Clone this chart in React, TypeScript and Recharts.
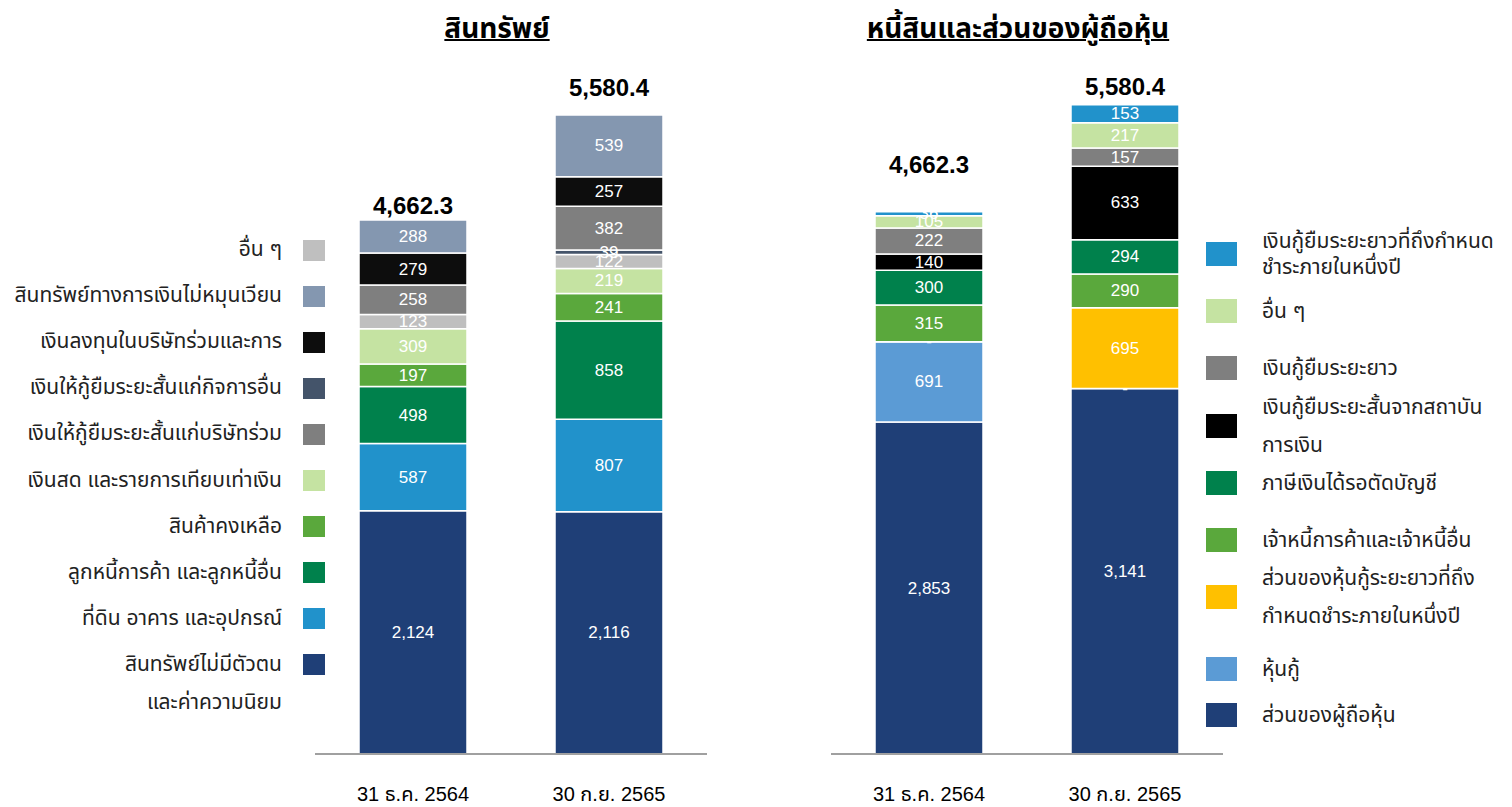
import React from 'react';
import { BarChart, Bar, XAxis, YAxis, LabelList, Legend } from 'recharts';

const FONT = "'Liberation Sans', Arial, 'Noto Sans Thai', Tahoma, sans-serif";

const periods = ['31 ธ.ค. 2564', '30 ก.ย. 2565'];

// สินทรัพย์ (ล้านบาท) - bottom to top of the stack
const intangibleAssets = [2124, 2116];
const ppe = [587, 807];
const tradeReceivables = [498, 858];
const inventories = [197, 241];
const cashEquivalents = [309, 219];
const otherAssets = [123, 122];
const loansToOthers = [null, 39];
const loansToAssociates = [258, 382];
const investments = [279, 257];
const nonCurrentFinAssets = [288, 539];
const assetTotals = [4662.3, 5580.4];

// หนี้สินและส่วนของผู้ถือหุ้น - bottom to top of the stack
const equity = [2853, 3141];
const debentures = [691, 0];
const currentDebentures = [0, 695];
const tradePayables = [315, 290];
const deferredTax = [300, 294];
const shortTermLoans = [140, 633];
const longTermLoans = [222, 157];
const otherLiabilities = [105, 217];
const currentLongTermLoans = [36, 153];
const liabTotals = [4662.3, 5580.4];

type Series = { key: string; label: string; color: string; values: (number | null)[] };

const assetSeries: Series[] = [
  { key: 'intangible', label: 'สินทรัพย์ไม่มีตัวตน\nและค่าความนิยม', color: '#1F3F77', values: intangibleAssets },
  { key: 'ppe', label: 'ที่ดิน อาคาร และอุปกรณ์', color: '#2192CB', values: ppe },
  { key: 'receivables', label: 'ลูกหนี้การค้า และลูกหนี้อื่น', color: '#00814C', values: tradeReceivables },
  { key: 'inventory', label: 'สินค้าคงเหลือ', color: '#5AA83C', values: inventories },
  { key: 'cash', label: 'เงินสด และรายการเทียบเท่าเงิน', color: '#C5E3A2', values: cashEquivalents },
  { key: 'other', label: 'อื่น ๆ', color: '#BFBFBF', values: otherAssets },
  { key: 'loanOther', label: 'เงินให้กู้ยืมระยะสั้นแก่กิจการอื่น', color: '#44546A', values: loansToOthers },
  { key: 'loanAssoc', label: 'เงินให้กู้ยืมระยะสั้นแก่บริษัทร่วม', color: '#7F7F7F', values: loansToAssociates },
  { key: 'invest', label: 'เงินลงทุนในบริษัทร่วมและการ', color: '#0D0D0D', values: investments },
  { key: 'finAsset', label: 'สินทรัพย์ทางการเงินไม่หมุนเวียน', color: '#8497B0', values: nonCurrentFinAssets },
];
const assetLegendOrder = ['other', 'finAsset', 'invest', 'loanOther', 'loanAssoc', 'cash', 'inventory', 'receivables', 'ppe', 'intangible'];

const liabSeries: Series[] = [
  { key: 'equity', label: 'ส่วนของผู้ถือหุ้น', color: '#1F3F77', values: equity },
  { key: 'deb', label: 'หุ้นกู้', color: '#5B9BD5', values: debentures },
  { key: 'curDeb', label: 'ส่วนของหุ้นกู้ระยะยาวที่ถึง\nกำหนดชำระภายในหนึ่งปี', color: '#FFC000', values: currentDebentures },
  { key: 'payables', label: 'เจ้าหนี้การค้าและเจ้าหนี้อื่น', color: '#5AA83C', values: tradePayables },
  { key: 'tax', label: 'ภาษีเงินได้รอตัดบัญชี', color: '#00814C', values: deferredTax },
  { key: 'stLoan', label: 'เงินกู้ยืมระยะสั้นจากสถาบัน\nการเงิน', color: '#000000', values: shortTermLoans },
  { key: 'ltLoan', label: 'เงินกู้ยืมระยะยาว', color: '#7F7F7F', values: longTermLoans },
  { key: 'otherLiab', label: 'อื่น ๆ', color: '#C5E3A2', values: otherLiabilities },
  { key: 'curLtLoan', label: 'เงินกู้ยืมระยะยาวที่ถึงกำหนด\nชำระภายในหนึ่งปี', color: '#2192CB', values: currentLongTermLoans },
];

const buildRows = (series: Series[]) =>
  periods.map((p, i) => {
    const row: Record<string, any> = { period: p };
    series.forEach((s) => (row[s.key] = s.values[i]));
    return row;
  });

const assetData = buildRows(assetSeries);
const liabData = buildRows(liabSeries);

// layout constants
const ASSET_LIFT = [6, 19];
const LIAB_LIFT = [39, 10];
const RIGHT_ROW_Y = [254, 311, 368, 426, 483, 540, 597, 669, 715];

// zero values still get a hairline so their "-" label is drawn
const zeroMin = (s: Series) => (_v: any, index: number) => (s.values[index] === 0 ? 1 : 0);

const segLabel = (props: any) => {
  const { x, y, width, height, value } = props;
  if (value === null || value === undefined) return null;
  const txt = value === 0 ? '-' : Number(value).toLocaleString('en-US');
  return (
    <text
      x={x + width / 2}
      y={y + height / 2}
      textAnchor="middle"
      dominantBaseline="central"
      fill="#fff"
      fontSize={17}
      fontFamily={FONT}
    >
      {txt}
    </text>
  );
};

const totalLabel = (totals: number[], lifts: number[]) => (props: any) => {
  const { x, y, width, index } = props;
  return (
    <text
      x={x + width / 2}
      y={y - lifts[index]}
      textAnchor="middle"
      fill="#000"
      fontSize={24}
      fontWeight="bold"
      fontFamily={FONT}
    >
      {totals[index].toLocaleString('en-US', { minimumFractionDigits: 1 })}
    </text>
  );
};

const AssetLegend = () => (
  <div style={{ position: 'relative', width: 315, height: 807, fontFamily: FONT, color: '#222' }}>
    {assetLegendOrder.map((k, i) => {
      const s = assetSeries.find((it) => it.key === k)!;
      const cy = 250 + i * 46.1;
      return (
        <React.Fragment key={k}>
          <div style={{ position: 'absolute', left: 303, top: cy - 10.5, width: 22, height: 21, background: s.color }} />
          <div
            style={{
              position: 'absolute',
              right: 33,
              top: cy - 20,
              lineHeight: '38px',
              fontSize: 21,
              textAlign: 'right',
              whiteSpace: 'pre',
            }}
          >
            {s.label}
          </div>
        </React.Fragment>
      );
    })}
  </div>
);

const LiabLegend = () => (
  <div style={{ position: 'relative', width: 289, height: 807, fontFamily: FONT, color: '#222' }}>
    {[...liabSeries].reverse().map((s, i) => {
      const cy = RIGHT_ROW_Y[i];
      return (
        <React.Fragment key={s.key}>
          <div style={{ position: 'absolute', left: 0, top: cy - 12, width: 31, height: 24, background: s.color }} />
          <div
            style={{
              position: 'absolute',
              left: 56,
              top: cy - 50,
              height: 100,
              display: 'flex',
              alignItems: 'center',
            }}
          >
            <div style={{ fontSize: 21, lineHeight: i === 0 ? '26px' : '38px', whiteSpace: 'pre' }}>{s.label}</div>
          </div>
        </React.Fragment>
      );
    })}
  </div>
);

const titleStyle: React.CSSProperties = {
  position: 'absolute',
  top: 8,
  transform: 'translateX(-50%)',
  fontFamily: FONT,
  fontWeight: 'bold',
  fontSize: 28,
  textDecoration: 'underline',
  textDecorationThickness: 2,
  whiteSpace: 'nowrap',
  color: '#000',
};

const axisTick = { fontSize: 20, fill: '#000', fontFamily: FONT };

export default function App() {
  return (
    <div style={{ position: 'absolute', left: 0, top: 0, width: 1512, height: 807, background: '#fff' }}>
      <div style={{ ...titleStyle, left: 497 }}>สินทรัพย์</div>
      <div style={{ ...titleStyle, left: 1018 }}>หนี้สินและส่วนของผู้ถือหุ้น</div>

      <div style={{ position: 'absolute', left: 0, top: 0 }}>
        <BarChart width={720} height={807} data={assetData} margin={{ top: 67, right: 13, bottom: 0, left: 0 }} barSize={108}>
          <XAxis
            dataKey="period"
            height={53}
            tickLine={false}
            tickSize={0}
            tickMargin={33}
            tick={axisTick}
            axisLine={{ stroke: '#A0A0A0', strokeWidth: 2 }}
          />
          <YAxis hide domain={[0, 6000]} />
          <Legend
            layout="vertical"
            align="left"
            verticalAlign="top"
            content={AssetLegend}
            wrapperStyle={{ left: 0, top: 0, width: 315 }}
          />
          {assetSeries.map((s, i) => (
            <Bar key={s.key} dataKey={s.key} stackId="a" fill={s.color} stroke="#fff" strokeWidth={1.5} isAnimationActive={false}>
              <LabelList dataKey={s.key} content={segLabel} />
              {i === assetSeries.length - 1 && <LabelList dataKey={s.key} content={totalLabel(assetTotals, ASSET_LIFT)} />}
            </Bar>
          ))}
        </BarChart>
      </div>

      <div style={{ position: 'absolute', left: 760, top: 0 }}>
        <BarChart width={752} height={807} data={liabData} margin={{ top: 56, right: 0, bottom: 0, left: 71 }} barSize={108}>
          <XAxis
            dataKey="period"
            height={53}
            tickLine={false}
            tickSize={0}
            tickMargin={33}
            tick={axisTick}
            axisLine={{ stroke: '#A0A0A0', strokeWidth: 2 }}
          />
          <YAxis hide domain={[0, 6000]} />
          <Legend
            layout="vertical"
            align="right"
            verticalAlign="top"
            content={LiabLegend}
            wrapperStyle={{ left: 446, right: undefined, top: 0, width: 289 }}
          />
          {liabSeries.map((s, i) => (
            <Bar
              key={s.key}
              dataKey={s.key}
              stackId="a"
              fill={s.color}
              stroke="#fff"
              strokeWidth={1.5}
              minPointSize={zeroMin(s)}
              isAnimationActive={false}
            >
              <LabelList dataKey={s.key} content={segLabel} />
              {i === liabSeries.length - 1 && <LabelList dataKey={s.key} content={totalLabel(liabTotals, LIAB_LIFT)} />}
            </Bar>
          ))}
        </BarChart>
      </div>
    </div>
  );
}
